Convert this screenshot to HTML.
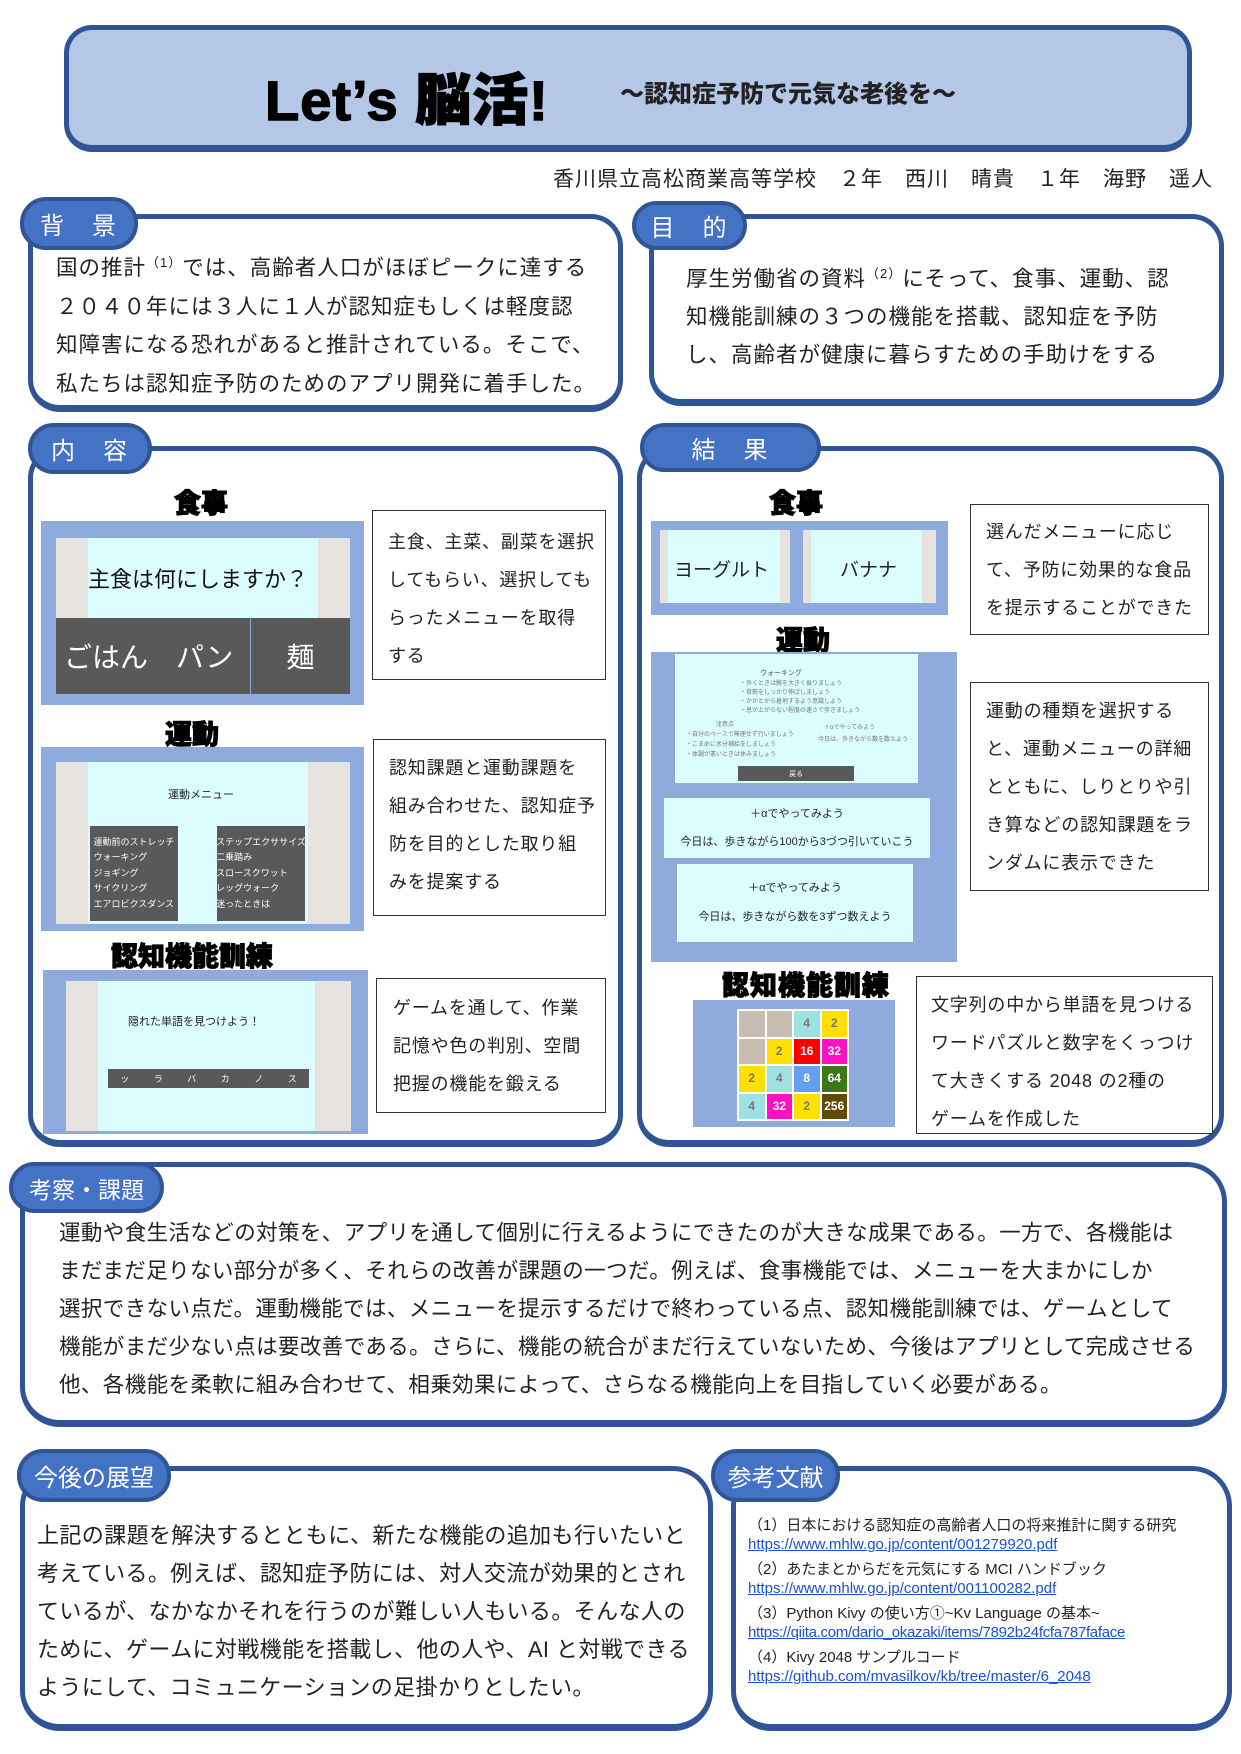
<!DOCTYPE html>
<html><head><meta charset="utf-8"><style>
*{margin:0;padding:0;box-sizing:border-box}
body{width:1241px;height:1754px;background:#fff;position:relative;overflow:hidden;font-family:"Liberation Sans","Noto Sans CJK JP",sans-serif;color:#222}
.a{position:absolute}
.box{position:absolute;border:5px solid #2f5597;border-bottom-width:7px;border-radius:32px;background:#fff}
.tab{position:absolute;background:#4472c4;border:4px solid #2f5597;border-radius:26px;color:#fff;font-size:24px;display:flex;align-items:center;justify-content:center;letter-spacing:2px}
.l{position:absolute;white-space:nowrap;font-size:21.5px;letter-spacing:1px}
.tb{position:absolute;border:1.5px solid #333;background:#fff}
.tb .l{font-size:18px;letter-spacing:0.8px}
.h{position:absolute;font-weight:900;font-size:27px;transform:translateX(-50%);white-space:nowrap;color:#000;-webkit-text-stroke:1px #000}
.img{position:absolute;background:#8faadc}
.scr{position:absolute;background:#dcfdfd}
.stripe{position:absolute;background:#e6e3de}
.dk{position:absolute;background:#595959;color:#fff;display:flex;align-items:center;justify-content:center;white-space:nowrap}
.ref{position:absolute;white-space:nowrap;font-size:15px;left:748px}
.u{color:#1a4fd6;text-decoration:underline}
</style></head><body>

<!-- title -->
<div class="box" style="left:64px;top:25px;width:1128px;height:127px;background:#b4c7e7;border-radius:28px"></div>
<div class="a" style="left:265px;top:56px;font-size:56px;font-weight:900;letter-spacing:1px;white-space:nowrap;-webkit-text-stroke:1.5px #000;color:#000">Let’s 脳活!</div>
<div class="a" style="left:620px;top:74px;font-size:24px;font-weight:900;white-space:nowrap;color:#222">～認知症予防で元気な老後を～</div>
<div class="a" style="right:28px;top:163px;font-size:21px;white-space:nowrap;letter-spacing:1px">香川県立高松商業高等学校　２年　西川　晴貴　１年　海野　遥人</div>

<!-- 背景 -->
<div class="box" style="left:28px;top:214px;width:595px;height:198px"></div>
<div class="tab" style="left:20px;top:197px;width:118px;height:53px">背　景</div>
<div class="l" style="left:56px;top:251px">国の推計<sup style="font-size:13px">（1）</sup>では、高齢者人口がほぼピークに達する</div>
<div class="l" style="left:56px;top:290px">２０４０年には３人に１人が認知症もしくは軽度認</div>
<div class="l" style="left:56px;top:328px">知障害になる恐れがあると推計されている。そこで、</div>
<div class="l" style="left:56px;top:367px">私たちは認知症予防のためのアプリ開発に着手した。</div>

<!-- 目的 -->
<div class="box" style="left:649px;top:214px;width:575px;height:192px"></div>
<div class="tab" style="left:632px;top:201px;width:115px;height:49px">目　的</div>
<div class="l" style="left:686px;top:262px">厚生労働省の資料<sup style="font-size:13px">（2）</sup>にそって、食事、運動、認</div>
<div class="l" style="left:686px;top:300px">知機能訓練の３つの機能を搭載、認知症を予防</div>
<div class="l" style="left:686px;top:338px">し、高齢者が健康に暮らすための手助けをする</div>

<!-- 内容 -->
<div class="box" style="left:28px;top:446px;width:595px;height:701px"></div>
<div class="tab" style="left:28px;top:423px;width:124px;height:51px">内　容</div>
<div class="h" style="left:201px;top:482px">食事</div>
<div class="img" style="left:41px;top:521px;width:323px;height:184px"></div>
<div class="scr" style="left:56px;top:538px;width:294px;height:80px"></div>
<div class="stripe" style="left:56px;top:538px;width:32px;height:80px"></div>
<div class="stripe" style="left:318px;top:538px;width:32px;height:80px"></div>
<div class="a" style="left:88px;top:562px;font-size:22px;white-space:nowrap;color:#111">主食は何にしますか？</div>
<div class="dk" style="left:56px;top:618px;width:194px;height:76px;font-size:28px;justify-content:flex-start;padding-left:8px">ごはん　パン</div>
<div class="dk" style="left:251px;top:618px;width:99px;height:76px;font-size:28px">麺</div>
<div class="tb" style="left:372px;top:510px;width:234px;height:170px">
<div class="l" style="left:15px;top:17px">主食、主菜、副菜を選択</div>
<div class="l" style="left:15px;top:55px">してもらい、選択しても</div>
<div class="l" style="left:15px;top:93px">らったメニューを取得</div>
<div class="l" style="left:15px;top:131px">する</div></div>

<div class="h" style="left:192px;top:713px">運動</div>
<div class="img" style="left:41px;top:747px;width:323px;height:184px"></div>
<div class="scr" style="left:56px;top:762px;width:294px;height:162px"></div>
<div class="stripe" style="left:56px;top:762px;width:32px;height:162px"></div>
<div class="stripe" style="left:308px;top:762px;width:42px;height:162px"></div>
<div class="a" style="left:168px;top:786px;font-size:11px;white-space:nowrap">運動メニュー</div>
<div class="dk" style="left:90px;top:826px;width:88px;height:95px;font-size:9px;flex-direction:column;line-height:15.5px">運動前のストレッチ<br>ウォーキング<br>ジョギング<br>サイクリング<br>エアロビクスダンス</div>
<div class="dk" style="left:217px;top:826px;width:88px;height:95px;font-size:9px;flex-direction:column;line-height:15.5px">ステップエクササイズ<br>二乗踏み<br>スロースクワット<br>レッグウォーク<br>迷ったときは</div>
<div class="tb" style="left:373px;top:739px;width:233px;height:177px">
<div class="l" style="left:15px;top:14px">認知課題と運動課題を</div>
<div class="l" style="left:15px;top:52px">組み合わせた、認知症予</div>
<div class="l" style="left:15px;top:90px">防を目的とした取り組</div>
<div class="l" style="left:15px;top:128px">みを提案する</div></div>

<div class="h" style="left:192px;top:935px">認知機能訓練</div>
<div class="img" style="left:43px;top:970px;width:325px;height:164px"></div>
<div class="scr" style="left:66px;top:981px;width:285px;height:150px"></div>
<div class="stripe" style="left:66px;top:981px;width:32px;height:150px"></div>
<div class="stripe" style="left:315px;top:981px;width:36px;height:150px"></div>
<div class="a" style="left:128px;top:1013px;font-size:11px;white-space:nowrap">隠れた単語を見つけよう！</div>
<div class="dk" style="left:108px;top:1069px;width:201px;height:19px;font-size:9px;justify-content:space-around">ッ<span>ラ</span><span>バ</span><span>カ</span><span>ノ</span><span>ス</span></div>
<div class="tb" style="left:376px;top:978px;width:230px;height:135px">
<div class="l" style="left:16px;top:15px">ゲームを通して、作業</div>
<div class="l" style="left:16px;top:53px">記憶や色の判別、空間</div>
<div class="l" style="left:16px;top:91px">把握の機能を鍛える</div></div>

<!-- 結果 -->
<div class="box" style="left:637px;top:446px;width:587px;height:701px"></div>
<div class="tab" style="left:640px;top:423px;width:181px;height:49px">結　果</div>
<div class="h" style="left:796px;top:482px">食事</div>
<div class="img" style="left:651px;top:521px;width:297px;height:94px"></div>
<div class="scr" style="left:660px;top:530px;width:130px;height:73px"></div>
<div class="stripe" style="left:660px;top:530px;width:8px;height:73px"></div>
<div class="stripe" style="left:780px;top:530px;width:10px;height:73px"></div>
<div class="a" style="left:674px;top:555px;font-size:19px;white-space:nowrap">ヨーグルト</div>
<div class="scr" style="left:803px;top:530px;width:133px;height:73px"></div>
<div class="stripe" style="left:803px;top:530px;width:8px;height:73px"></div>
<div class="stripe" style="left:922px;top:530px;width:14px;height:73px"></div>
<div class="a" style="left:840px;top:555px;font-size:19px;white-space:nowrap">バナナ</div>
<div class="tb" style="left:970px;top:504px;width:239px;height:131px">
<div class="l" style="left:15px;top:13px">選んだメニューに応じ</div>
<div class="l" style="left:15px;top:51px">て、予防に効果的な食品</div>
<div class="l" style="left:15px;top:89px">を提示することができた</div></div>

<div class="h" style="left:803px;top:619px">運動</div>
<div class="img" style="left:651px;top:652px;width:306px;height:310px"></div>
<div class="scr" style="left:675px;top:654px;width:243px;height:129px"></div>
<div class="a" style="left:760px;top:668px;font-size:7px;white-space:nowrap;color:#555">ウォーキング</div>
<div class="a" style="left:740px;top:680px;font-size:6px;line-height:9px;color:#777;white-space:nowrap">・歩くときは腕を大きく振りましょう<br>・背筋をしっかり伸ばしましょう<br>・かかとから着地するよう意識しよう<br>・息が上がらない程度の速さで歩きましょう</div>
<div class="a" style="left:686px;top:720px;font-size:6px;line-height:10px;color:#777;white-space:nowrap">　　　　　注意点<br>・自分のペースで無理せず行いましょう<br>・こまめに水分補給をしましょう<br>・体調が悪いときは休みましょう</div>
<div class="a" style="left:818px;top:722px;font-size:6px;line-height:12px;color:#777;white-space:nowrap">　＋αでやってみよう<br>今日は、歩きながら数を数えよう</div>
<div class="dk" style="left:738px;top:766px;width:116px;height:15px;font-size:7px">戻る</div>
<div class="scr" style="left:664px;top:798px;width:266px;height:60px"></div>
<div class="a" style="left:664px;top:805px;width:266px;text-align:center;font-size:11px">＋αでやってみよう</div>
<div class="a" style="left:664px;top:833px;width:266px;text-align:center;font-size:11px;white-space:nowrap">今日は、歩きながら100から3づつ引いていこう</div>
<div class="scr" style="left:677px;top:864px;width:236px;height:78px"></div>
<div class="a" style="left:677px;top:879px;width:236px;text-align:center;font-size:11px">＋αでやってみよう</div>
<div class="a" style="left:677px;top:908px;width:236px;text-align:center;font-size:11px;white-space:nowrap">今日は、歩きながら数を3ずつ数えよう</div>
<div class="tb" style="left:970px;top:682px;width:239px;height:209px">
<div class="l" style="left:15px;top:14px">運動の種類を選択する</div>
<div class="l" style="left:15px;top:52px">と、運動メニューの詳細</div>
<div class="l" style="left:15px;top:90px">とともに、しりとりや引</div>
<div class="l" style="left:15px;top:128px">き算などの認知課題をラ</div>
<div class="l" style="left:15px;top:166px">ンダムに表示できた</div></div>

<div class="h" style="left:806px;top:964px;letter-spacing:1px">認知機能訓練</div>
<div class="img" style="left:693px;top:1000px;width:202px;height:127px"></div>
<div class="a" style="left:737px;top:1009px;width:112px;height:112px;background:#fff;padding:2px;display:grid;grid-template-columns:repeat(4,1fr);grid-template-rows:repeat(4,1fr);gap:2px;font-size:12px;font-weight:bold">
<div style="background:#c9bdb2"></div><div style="background:#c9bdb2"></div><div style="background:#9de2e0;color:#777;text-align:center;line-height:25px">4</div><div style="background:#ffe000;color:#777;text-align:center;line-height:25px">2</div>
<div style="background:#c9bdb2"></div><div style="background:#ffe000;color:#777;text-align:center;line-height:25px">2</div><div style="background:#f00;color:#fff;text-align:center;line-height:25px">16</div><div style="background:#ff10c0;color:#fff;text-align:center;line-height:25px">32</div>
<div style="background:#ffe000;color:#777;text-align:center;line-height:25px">2</div><div style="background:#9de2e0;color:#777;text-align:center;line-height:25px">4</div><div style="background:#64a0f0;color:#fff;text-align:center;line-height:25px">8</div><div style="background:#3a7818;color:#fff;text-align:center;line-height:25px">64</div>
<div style="background:#9de2e0;color:#777;text-align:center;line-height:25px">4</div><div style="background:#ff10c0;color:#fff;text-align:center;line-height:25px">32</div><div style="background:#ffe000;color:#777;text-align:center;line-height:25px">2</div><div style="background:#604a08;color:#fff;text-align:center;line-height:25px">256</div></div>
<div class="tb" style="left:916px;top:976px;width:297px;height:158px">
<div class="l" style="left:14px;top:14px">文字列の中から単語を見つける</div>
<div class="l" style="left:14px;top:52px">ワードパズルと数字をくっつけ</div>
<div class="l" style="left:14px;top:90px">て大きくする 2048 の2種の</div>
<div class="l" style="left:14px;top:128px">ゲームを作成した</div></div>

<!-- 考察・課題 -->
<div class="box" style="left:20px;top:1162px;width:1207px;height:265px;border-radius:40px"></div>
<div class="tab" style="left:9px;top:1162px;width:155px;height:51px;font-size:23px;letter-spacing:0">考察・課題</div>
<div class="l" style="left:59px;top:1216px;font-size:21.5px;letter-spacing:0.4px">運動や食生活などの対策を、アプリを通して個別に行えるようにできたのが大きな成果である。一方で、各機能は</div>
<div class="l" style="left:59px;top:1254px;font-size:21.5px;letter-spacing:0.4px">まだまだ足りない部分が多く、それらの改善が課題の一つだ。例えば、食事機能では、メニューを大まかにしか</div>
<div class="l" style="left:59px;top:1292px;font-size:21.5px;letter-spacing:0.4px">選択できない点だ。運動機能では、メニューを提示するだけで終わっている点、認知機能訓練では、ゲームとして</div>
<div class="l" style="left:59px;top:1330px;font-size:21.5px;letter-spacing:0.4px">機能がまだ少ない点は要改善である。さらに、機能の統合がまだ行えていないため、今後はアプリとして完成させる</div>
<div class="l" style="left:59px;top:1368px;font-size:21.5px;letter-spacing:0.4px">他、各機能を柔軟に組み合わせて、相乗効果によって、さらなる機能向上を目指していく必要がある。</div>

<!-- 今後の展望 -->
<div class="box" style="left:20px;top:1466px;width:693px;height:265px;border-radius:40px"></div>
<div class="tab" style="left:17px;top:1449px;width:154px;height:53px;font-size:24px;letter-spacing:0">今後の展望</div>
<div class="l" style="left:37px;top:1518px;font-size:22px;letter-spacing:0.4px">上記の課題を解決するとともに、新たな機能の追加も行いたいと</div>
<div class="l" style="left:37px;top:1556px;font-size:22px;letter-spacing:0.4px">考えている。例えば、認知症予防には、対人交流が効果的とされ</div>
<div class="l" style="left:37px;top:1594px;font-size:22px;letter-spacing:0.4px">ているが、なかなかそれを行うのが難しい人もいる。そんな人の</div>
<div class="l" style="left:37px;top:1632px;font-size:22px;letter-spacing:0.4px">ために、ゲームに対戦機能を搭載し、他の人や、AI と対戦できる</div>
<div class="l" style="left:37px;top:1670px;font-size:22px;letter-spacing:0.4px">ようにして、コミュニケーションの足掛かりとしたい。</div>

<!-- 参考文献 -->
<div class="box" style="left:731px;top:1466px;width:501px;height:265px;border-radius:40px"></div>
<div class="tab" style="left:711px;top:1449px;width:129px;height:53px;font-size:24px;letter-spacing:0">参考文献</div>
<div class="ref" style="top:1514px">（1）日本における認知症の高齢者人口の将来推計に関する研究</div>
<div class="ref u" style="top:1536px">https://www.mhlw.go.jp/content/001279920.pdf</div>
<div class="ref" style="top:1558px">（2）あたまとからだを元気にする MCI ハンドブック</div>
<div class="ref u" style="top:1580px">https://www.mhlw.go.jp/content/001100282.pdf</div>
<div class="ref" style="top:1602px">（3）Python Kivy の使い方①~Kv Language の基本~</div>
<div class="ref u" style="top:1624px;letter-spacing:-0.3px">https://qiita.com/dario_okazaki/items/7892b24fcfa787faface</div>
<div class="ref" style="top:1646px">（4）Kivy 2048 サンプルコード</div>
<div class="ref u" style="top:1668px">https://github.com/mvasilkov/kb/tree/master/6_2048</div>
</body></html>
